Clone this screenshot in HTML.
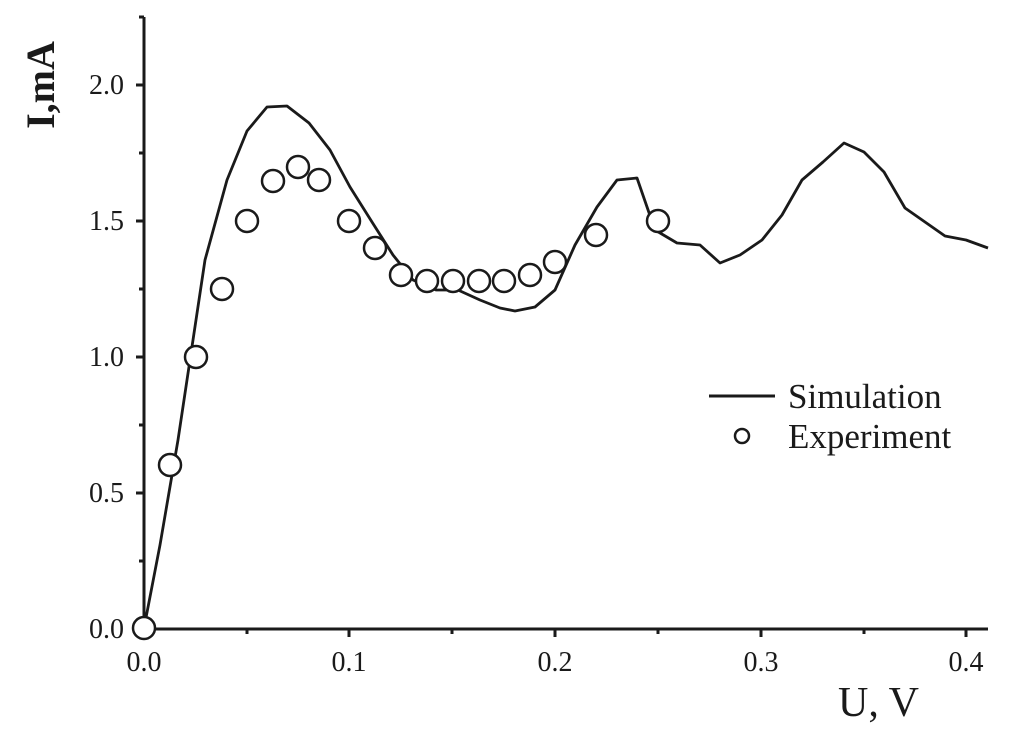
<!DOCTYPE html>
<html><head><meta charset="utf-8"><style>html,body{margin:0;padding:0;background:#fff}</style></head>
<body>
<svg width="1027" height="744" viewBox="0 0 1027 744" xmlns="http://www.w3.org/2000/svg" font-family="Liberation Serif, serif" fill="#1a1a1a">
<g stroke="#1a1a1a" stroke-width="3" fill="none">
<line x1="144" y1="17" x2="144" y2="630"/>
<line x1="143" y1="629" x2="988" y2="629"/>
<line x1="136" y1="629" x2="144" y2="629"/>
<line x1="136" y1="493" x2="144" y2="493"/>
<line x1="136" y1="357" x2="144" y2="357"/>
<line x1="136" y1="221" x2="144" y2="221"/>
<line x1="136" y1="85" x2="144" y2="85"/>
<line x1="139" y1="561" x2="144" y2="561"/>
<line x1="139" y1="425" x2="144" y2="425"/>
<line x1="139" y1="289" x2="144" y2="289"/>
<line x1="139" y1="153" x2="144" y2="153"/>
<line x1="139" y1="17" x2="144" y2="17"/>
<line x1="349" y1="629" x2="349" y2="637"/>
<line x1="555" y1="629" x2="555" y2="637"/>
<line x1="761" y1="629" x2="761" y2="637"/>
<line x1="966" y1="629" x2="966" y2="637"/>
<line x1="247" y1="629" x2="247" y2="634"/>
<line x1="452" y1="629" x2="452" y2="634"/>
<line x1="658" y1="629" x2="658" y2="634"/>
<line x1="864" y1="629" x2="864" y2="634"/>
<polyline stroke-width="2.8" stroke-linejoin="round" points="144,628 160,545 178,440 205,260 227,180 247,131 267,107 287,106 309,123 330,150 350,187 372,222 393,255 413,280 436,290 458,290 480,300 500,308 515,311 535,307 555,290 575,245 597,207 617,180 637,178 655,230 677,243 700,245 720,263 740,255 762,240 782,215 802,180 823,162 844,143 864,152 884,172 905,208 925,222 945,236 966,240 988,248"/>
<g stroke-width="2.5" fill="#fff">
<circle cx="144" cy="628" r="11"/><circle cx="170" cy="465" r="11"/><circle cx="196" cy="357" r="11"/><circle cx="222" cy="289" r="11"/><circle cx="247" cy="221" r="11"/><circle cx="273" cy="181" r="11"/><circle cx="298" cy="167" r="11"/><circle cx="319" cy="180" r="11"/><circle cx="349" cy="221" r="11"/><circle cx="375" cy="248" r="11"/><circle cx="401" cy="275" r="11"/><circle cx="427" cy="281" r="11"/><circle cx="453" cy="281" r="11"/><circle cx="479" cy="281" r="11"/><circle cx="504" cy="281" r="11"/><circle cx="530" cy="275" r="11"/><circle cx="555" cy="262" r="11"/><circle cx="596" cy="235" r="11"/><circle cx="658" cy="221" r="11"/>
<circle cx="742" cy="436" r="7"/>
</g>
<line x1="709" y1="396" x2="775" y2="396"/>
</g>
<g font-size="28" text-anchor="end">
<text x="124" y="638">0.0</text><text x="124" y="502">0.5</text><text x="124" y="366">1.0</text><text x="124" y="230">1.5</text><text x="124" y="94">2.0</text>
</g>
<g font-size="28" text-anchor="middle">
<text x="144" y="671">0.0</text><text x="349" y="671">0.1</text><text x="555" y="671">0.2</text><text x="761" y="671">0.3</text><text x="966" y="671">0.4</text>
</g>
<text x="788" y="408" font-size="35">Simulation</text>
<text x="788" y="448" font-size="35">Experiment</text>
<text x="838" y="716" font-size="42">U, V</text>
<text transform="translate(54,85) rotate(-90)" font-size="40" font-weight="bold" text-anchor="middle">I,mA</text>
</svg>
</body></html>
